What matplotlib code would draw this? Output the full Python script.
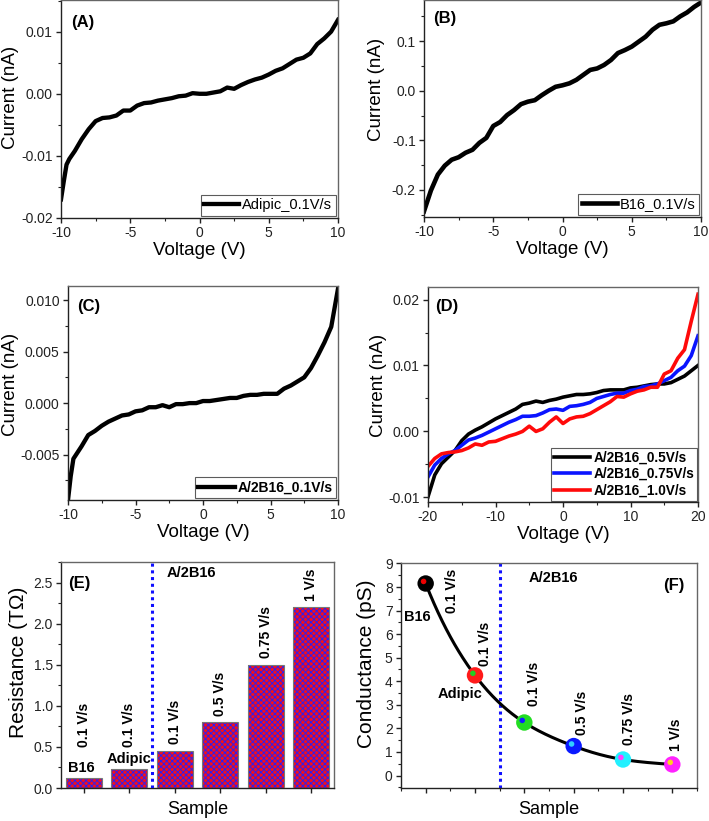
import numpy as np
import matplotlib
matplotlib.use("Agg")
import matplotlib.pyplot as plt
from matplotlib.ticker import MultipleLocator, FormatStrFormatter
import matplotlib.transforms as mtrans

plt.rcParams['font.family'] = ['Liberation Sans', 'DejaVu Sans']
plt.rcParams['hatch.linewidth'] = 0.6
plt.rcParams['axes.unicode_minus'] = False

# ---------------- data ----------------
# (A) Adipic 0.1 V/s
vA = [-10, -9.8, -9.6, -9.4, -9, -8.5, -8, -7.5, -7, -6.5, -6, -5.5, -5, -4.5, -4, -3.5, -3, -2.5,
      -2, -1.5, -1, -0.5, 0, 0.5, 1, 1.5, 2, 2.5, 3, 3.5, 4, 4.5, 5, 5.5, 6, 6.5, 7, 7.5, 8, 8.5,
      9, 9.5, 10]
iA = [-0.0170, -0.0141, -0.0114, -0.0105, -0.0092, -0.0073, -0.0057, -0.0044, -0.0039, -0.0038,
      -0.0035, -0.0027, -0.0027, -0.0019, -0.0015, -0.0014, -0.0011, -0.0009, -0.0007, -0.0004,
      -0.0003, 0.0001, 0.0000, 0.0000, 0.0002, 0.0004, 0.0010, 0.0008, 0.0014, 0.0019, 0.0023,
      0.0026, 0.0031, 0.0037, 0.0041, 0.0048, 0.0055, 0.0058, 0.0065, 0.0080, 0.0089, 0.0100,
      0.0119]

# (B) B16 0.1 V/s
vB = [-10, -9.5, -9, -8.5, -8, -7.5, -7, -6.5, -6, -5.5, -5, -4.5, -4, -3.5, -3, -2.5, -2, -1.5,
      -1, -0.5, 0, 0.5, 1, 1.5, 2, 2.5, 3, 3.5, 4, 4.5, 5, 5.5, 6, 6.5, 7, 7.5, 8, 8.5, 9, 9.5, 10]
iB = [-0.243, -0.201, -0.169, -0.151, -0.139, -0.134, -0.125, -0.119, -0.105, -0.095, -0.071,
      -0.063, -0.049, -0.039, -0.027, -0.022, -0.019, -0.009, 0.000, 0.008, 0.011, 0.015, 0.022,
      0.032, 0.042, 0.045, 0.052, 0.062, 0.076, 0.082, 0.089, 0.099, 0.109, 0.123, 0.133, 0.136,
      0.140, 0.150, 0.158, 0.169, 0.178]

# (C) A/2B16 0.1 V/s
vC = [-10, -9.8, -9.6, -9.4, -9, -8.5, -8, -7.5, -7, -6.5, -6, -5.5, -5, -4.5, -4, -3.5, -3, -2.5,
      -2, -1.5, -1, -0.5, 0, 0.5, 1, 1.5, 2, 2.5, 3, 3.5, 4, 4.5, 5, 5.5, 6, 6.5, 7, 7.5, 8, 8.5,
      9, 9.5, 10]
iC = [-0.0094, -0.0071, -0.0054, -0.0050, -0.0042, -0.0031, -0.0027, -0.0022, -0.0018, -0.0015,
      -0.0012, -0.0011, -0.0008, -0.0007, -0.0004, -0.0004, -0.0002, -0.0004, -0.0001, -0.0001,
      0.0000, 0.0000, 0.0002, 0.0002, 0.0003, 0.0004, 0.0005, 0.0005, 0.0007, 0.0008, 0.0008,
      0.0009, 0.0009, 0.0009, 0.0014, 0.0017, 0.0021, 0.0025, 0.0034, 0.0046, 0.0059, 0.0074,
      0.0111]

# (D) A/2B16 at several scan rates
vD = list(range(-20, 21))
iD_05 = [-0.0099, -0.0066, -0.0049, -0.0039, -0.0029, -0.0014, -0.0004, 0.0002, 0.0007, 0.0013,
         0.0019, 0.0024, 0.0029, 0.0034, 0.0041, 0.0043, 0.0046, 0.0044, 0.0047, 0.0049, 0.0052,
         0.0054, 0.0056, 0.0056, 0.0057, 0.0059, 0.0062, 0.0063, 0.0063, 0.0063, 0.0066, 0.0067,
         0.0069, 0.0071, 0.0072, 0.0072, 0.0074, 0.0079, 0.0084, 0.0092, 0.0100]
iD_075 = [-0.0069, -0.0051, -0.0041, -0.0034, -0.0029, -0.0021, -0.0013, -0.0010, -0.0006,
          -0.0001, 0.0004, 0.0009, 0.0014, 0.0018, 0.0023, 0.0023, 0.0024, 0.0028, 0.0033, 0.0034,
          0.0032, 0.0038, 0.0039, 0.0041, 0.0044, 0.0050, 0.0053, 0.0056, 0.0058, 0.0058, 0.0062,
          0.0064, 0.0068, 0.0069, 0.0072, 0.0077, 0.0082, 0.0092, 0.0099, 0.0115, 0.0145]
iD_10 = [-0.0053, -0.0041, -0.0034, -0.0032, -0.0031, -0.0029, -0.0025, -0.0019, -0.0021,
         -0.0016, -0.0015, -0.0011, -0.0007, -0.0004, 0.0000, 0.0008, 0.0000, 0.0004, 0.0014,
         0.0022, 0.0012, 0.0019, 0.0022, 0.0023, 0.0027, 0.0033, 0.0039, 0.0045, 0.0053, 0.0052,
         0.0057, 0.0061, 0.0063, 0.0067, 0.0067, 0.0087, 0.0092, 0.0111, 0.0124, 0.0167, 0.0208]

# (E) resistance, (F) conductance
samples = ['B16', 'Adipic', 'A/2B16 0.1', 'A/2B16 0.5', 'A/2B16 0.75', 'A/2B16 1']
sample_names = ['B16', 'Adipic']
rate_labels = ['0.1 V/s', '0.1 V/s', '0.1 V/s', '0.5 V/s', '0.75 V/s', '1 V/s']
resistance = [0.12, 0.23, 0.45, 0.80, 1.50, 2.20]
conductance = [8.15, 4.25, 2.25, 1.25, 0.68, 0.47]
marker_colors = ['#000000', '#ff1a1a', '#22dd22', '#0a1aff', '#22f0ff', '#ff22ff']
highlight_colors = ['#ee0000', '#22cc22', '#1020ff', '#30d0ff', '#ff40ff', '#ffd020']

# ---------------- figure ----------------
W, H = 709, 821
fig = plt.figure(figsize=(W / 100, H / 100), dpi=100)


def axes_px(x0, y0, x1, y1):
    return fig.add_axes([x0 / W, 1 - y1 / H, (x1 - x0) / W, (y1 - y0) / H])


def style(ax):
    for s in ['left', 'bottom']:
        ax.spines[s].set_color('#222222')
    for s in ['top', 'right']:
        ax.spines[s].set_color('#666666')
    for s in ax.spines.values():
        s.set_linewidth(1.0)
    ax.tick_params(which='both', direction='out', top=False, right=False,
                   labelsize=10, colors='#222222', pad=2.5)
    ax.tick_params(which='major', length=3.5, width=1.0)
    ax.tick_params(which='minor', length=2.2, width=0.8)


def iv_panel(ax, letter, lp, ylc):
    style(ax)
    ax.set_xlabel('Voltage (V)', fontsize=13.5, labelpad=1)
    ax.set_ylabel('Current (nA)', fontsize=13.5)
    ax.yaxis.set_label_coords(*ylc)
    ax.text(lp[0], lp[1], letter, transform=ax.transAxes, fontsize=12,
            fontweight='bold', ha='center', va='center')


# (A)
axA = axes_px(61, 0, 338, 218)
axA.plot(vA, iA, color='black', lw=3.1, label='Adipic_0.1V/s')
axA.set_xlim(-10, 10)
axA.set_ylim(-0.02, 0.0151)
axA.xaxis.set_major_locator(MultipleLocator(5))
axA.xaxis.set_minor_locator(MultipleLocator(2.5))
axA.yaxis.set_major_locator(MultipleLocator(0.01))
axA.yaxis.set_minor_locator(MultipleLocator(0.005))
axA.yaxis.set_major_formatter(FormatStrFormatter('%.2f'))
iv_panel(axA, '(A)', (0.078, 0.897), (-0.15, 0.553))
axA.legend(loc='lower right', fontsize=10.5, frameon=True, fancybox=False,
           edgecolor='#333333', handlelength=2.4, borderaxespad=0.15,
           borderpad=0.25, handletextpad=0.2).get_frame().set_linewidth(0.8)

# (B)
axB = axes_px(424, 0, 701, 217)
axB.plot(vB, iB, color='black', lw=3.3, label='B16_0.1V/s')
axB.set_xlim(-10, 10)
axB.set_ylim(-0.2545, 0.183)
axB.xaxis.set_major_locator(MultipleLocator(5))
axB.xaxis.set_minor_locator(MultipleLocator(2.5))
axB.yaxis.set_major_locator(MultipleLocator(0.1))
axB.yaxis.set_minor_locator(MultipleLocator(0.05))
axB.yaxis.set_major_formatter(FormatStrFormatter('%.1f'))
iv_panel(axB, '(B)', (0.076, 0.916), (-0.141, 0.59))
axB.legend(loc='lower right', fontsize=10.5, frameon=True, fancybox=False,
           edgecolor='#333333', handlelength=2.4, borderaxespad=0.15,
           borderpad=0.25, handletextpad=0.2).get_frame().set_linewidth(0.8)

# (C)
axC = axes_px(68, 286, 338, 500)
axC.plot(vC, iC, color='black', lw=3.1, label='A/2B16_0.1V/s')
axC.set_xlim(-10, 10)
axC.set_ylim(-0.0094, 0.01136)
axC.xaxis.set_major_locator(MultipleLocator(5))
axC.xaxis.set_minor_locator(MultipleLocator(2.5))
axC.yaxis.set_major_locator(MultipleLocator(0.005))
axC.yaxis.set_minor_locator(MultipleLocator(0.0025))
axC.yaxis.set_major_formatter(FormatStrFormatter('%.3f'))
iv_panel(axC, '(C)', (0.075, 0.903), (-0.18, 0.54))
axC.legend(loc='lower right', prop={'size': 10, 'weight': 'bold'}, frameon=True,
           fancybox=False, edgecolor='#333333', handlelength=2.6, borderaxespad=0.15,
           borderpad=0.25, handletextpad=0.2).get_frame().set_linewidth(0.8)

# (D)
axD = axes_px(428, 287, 698, 502)
axD.plot(vD, iD_05, color='black', lw=2.6, label='A/2B16_0.5V/s')
axD.plot(vD, iD_075, color='#0a14ff', lw=2.6, label='A/2B16_0.75V/s')
axD.plot(vD, iD_10, color='#ff0a0a', lw=2.6, label='A/2B16_1.0V/s')
axD.set_xlim(-20, 20)
axD.set_ylim(-0.0107, 0.0219)
axD.xaxis.set_major_locator(MultipleLocator(10))
axD.xaxis.set_minor_locator(MultipleLocator(5))
axD.yaxis.set_major_locator(MultipleLocator(0.01))
axD.yaxis.set_minor_locator(MultipleLocator(0.005))
axD.yaxis.set_major_formatter(FormatStrFormatter('%.2f'))
iv_panel(axD, '(D)', (0.069, 0.907), (-0.151, 0.544))
axD.legend(loc='lower right', prop={'size': 9.8, 'weight': 'bold'}, frameon=True,
           fancybox=False, edgecolor='#333333', handlelength=2.7, borderaxespad=0.1,
           borderpad=0.2, handletextpad=0.2, labelspacing=0.2).get_frame().set_linewidth(0.8)

# (E)
axE = axes_px(61, 562, 334, 788)
style(axE)
xpos = np.arange(1, len(samples) + 1)
axE.bar(xpos, resistance, width=0.8, color='#f01020', edgecolor='#2020ff',
        hatch='xxxxxx', linewidth=0, zorder=2)
axE.bar(xpos, resistance, width=0.8, fill=False, edgecolor='#777777',
        linewidth=0.8, zorder=3)
axE.axvline(2.5, color='#1010ff', ls=(0, (1, 1.2)), lw=2.2, zorder=4)
axE.set_xlim(0.5, 6.5)
axE.set_ylim(0, 2.75)
axE.set_xticks(xpos)
axE.set_xticklabels([])
axE.yaxis.set_major_locator(MultipleLocator(0.5))
axE.yaxis.set_minor_locator(MultipleLocator(0.25))
axE.yaxis.set_major_formatter(FormatStrFormatter('%.1f'))
axE.set_xlabel('Sample', fontsize=13, labelpad=3)
axE.set_ylabel('Resistance (T\u03a9)', fontsize=15)
axE.yaxis.set_label_coords(-0.12, 0.555)
for x, r, lab in zip(xpos, resistance, rate_labels):
    axE.text(x, max(r + 0.08, 0.5), lab, rotation=90, ha='center', va='bottom',
             fontsize=10, fontweight='bold')
for x, r, nm in zip(xpos, resistance, sample_names):
    axE.text(x - 0.05 if nm == 'B16' else x, r + 0.04, nm, ha='center', va='bottom',
             fontsize=10.5, fontweight='bold')
axE.text(0.479, 0.95, 'A/2B16', transform=axE.transAxes, ha='center', va='center',
         fontsize=10.5, fontweight='bold')
axE.text(0.066, 0.906, '(E)', transform=axE.transAxes, ha='center', va='center',
         fontsize=12, fontweight='bold')

# (F)
axF = axes_px(401, 563, 697, 788)
style(axF)


def natural_spline(x, y, xs):
    x = np.asarray(x, float)
    y = np.asarray(y, float)
    n = len(x)
    h = np.diff(x)
    A = np.zeros((n, n))
    rhs = np.zeros(n)
    A[0, 0] = A[-1, -1] = 1
    for i in range(1, n - 1):
        A[i, i - 1] = h[i - 1]
        A[i, i] = 2 * (h[i - 1] + h[i])
        A[i, i + 1] = h[i]
        rhs[i] = 3 * ((y[i + 1] - y[i]) / h[i] - (y[i] - y[i - 1]) / h[i - 1])
    c = np.linalg.solve(A, rhs)
    b = (y[1:] - y[:-1]) / h - h * (2 * c[:-1] + c[1:]) / 3
    d = (c[1:] - c[:-1]) / (3 * h)
    idx = np.clip(np.searchsorted(x, xs) - 1, 0, n - 2)
    t = xs - x[idx]
    return y[idx] + b[idx] * t + c[idx] * t ** 2 + d[idx] * t ** 3


xs = np.linspace(1, 6, 300)
ys = np.exp(natural_spline(xpos, np.log(conductance), xs))
axF.plot(xs, ys, color='black', lw=2.2, zorder=2)
axF.axvline(2.5, color='#1010ff', ls=(0, (1, 1.2)), lw=2.2, zorder=1)
axF.scatter(xpos, conductance, s=140, c=marker_colors, zorder=3, linewidths=0)
hl = mtrans.offset_copy(axF.transData, fig=fig, x=-1.5, y=1.5, units='points')
axF.scatter(xpos, conductance, s=16, c=highlight_colors, zorder=4, linewidths=0,
            transform=hl)
axF.set_xlim(0.5, 6.5)
axF.set_ylim(-0.53, 9.02)
axF.set_xticks(xpos)
axF.set_xticklabels([])
axF.xaxis.set_minor_locator(MultipleLocator(0.5))
axF.yaxis.set_major_locator(MultipleLocator(1))
axF.yaxis.set_minor_locator(MultipleLocator(0.5))
axF.set_xlabel('Sample', fontsize=13, labelpad=3)
axF.set_ylabel('Conductance (pS)', fontsize=15)
axF.yaxis.set_label_coords(-0.084, 0.551)
f_lab_x = [1.53, 2.21, 3.19, 4.17, 5.12, 6.07]
f_lab_y = [7.85, 5.6, 3.9, 2.65, 2.4, 1.75]
for x, y, lab in zip(f_lab_x, f_lab_y, rate_labels):
    axF.text(x, y, lab, rotation=90, ha='center', va='center', fontsize=10,
             fontweight='bold')
axF.text(0.84, 6.74, 'B16', ha='center', va='center', fontsize=10.5, fontweight='bold')
axF.text(1.69, 3.45, 'Adipic', ha='center', va='center', fontsize=10.5, fontweight='bold')
axF.text(0.516, 0.935, 'A/2B16', transform=axF.transAxes, ha='center', va='center',
         fontsize=10.5, fontweight='bold')
axF.text(0.923, 0.901, '(F)', transform=axF.transAxes, ha='center', va='center',
         fontsize=12, fontweight='bold')

fig.savefig('out.png', dpi=100)
